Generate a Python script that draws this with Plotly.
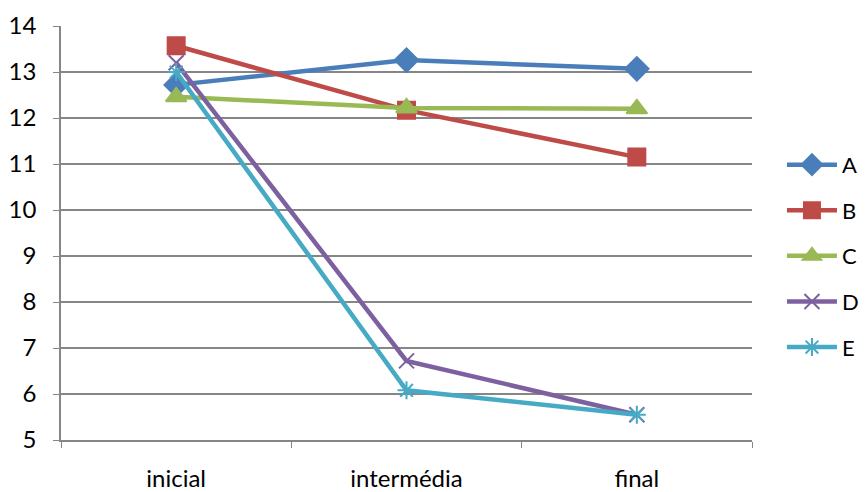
import plotly.graph_objects as go

stages = ["inicial", "intermédia", "final"]
series_names = ["A", "B", "C", "D", "E"]
values_a = [12.72, 13.26, 13.07]
values_b = [13.57, 12.17, 11.15]
values_c = [12.46, 12.22, 12.20]
values_d = [13.20, 6.72, 5.55]
values_e = [13.00, 6.08, 5.55]
y_ticks = [5, 6, 7, 8, 9, 10, 11, 12, 13, 14]

all_values = [values_a, values_b, values_c, values_d, values_e]
colors = ["#4A7EBB", "#BE4B48", "#98B954", "#7D60A0", "#46AAC5"]
symbols = ["diamond", "square", "triangle-up", "x-thin-open", "asterisk-open"]
sizes = [18, 17, 18, 15, 15]

fig = go.Figure()
for name, vals, col, sym, sz in zip(series_names, all_values, colors, symbols, sizes):
    fig.add_trace(go.Scatter(
        x=stages, y=vals, name=name, mode="lines+markers",
        line=dict(color=col, width=4.5),
        marker=dict(symbol=sym, size=sz, color=col,
                    line=dict(color=col, width=2)),
        legendgroup=name,
    ))

font = "Lato, Carlito, 'Liberation Sans', sans-serif"
fig.update_layout(
    width=865, height=492,
    margin=dict(l=61, r=113, t=26, b=52),
    paper_bgcolor="white", plot_bgcolor="white",
    font=dict(family=font, size=24, color="black"),
    showlegend=True,
    legend=dict(xref="container", yref="container",
                x=0.904, y=0.48, xanchor="left", yanchor="middle",
                font=dict(size=22), itemwidth=50, tracegroupgap=14,
                bgcolor="rgba(0,0,0,0)"),
    xaxis=dict(
        type="category", range=[-0.5, 2.5], automargin=False,
        showgrid=False, showline=True, linecolor="#868686", linewidth=1.5,
        ticks="outside", ticklen=6, tickcolor="#868686", tickson="boundaries",
        ticklabelstandoff=16,
    ),
    yaxis=dict(
        range=[5, 14], tickvals=y_ticks, automargin=False,
        showgrid=True, gridcolor="#868686", gridwidth=1.5,
        showline=True, linecolor="#868686", linewidth=1.5,
        ticks="outside", ticklen=6, tickcolor="#868686",
        ticklabelstandoff=12, zeroline=False,
    ),
)

fig.write_html("out.html")
